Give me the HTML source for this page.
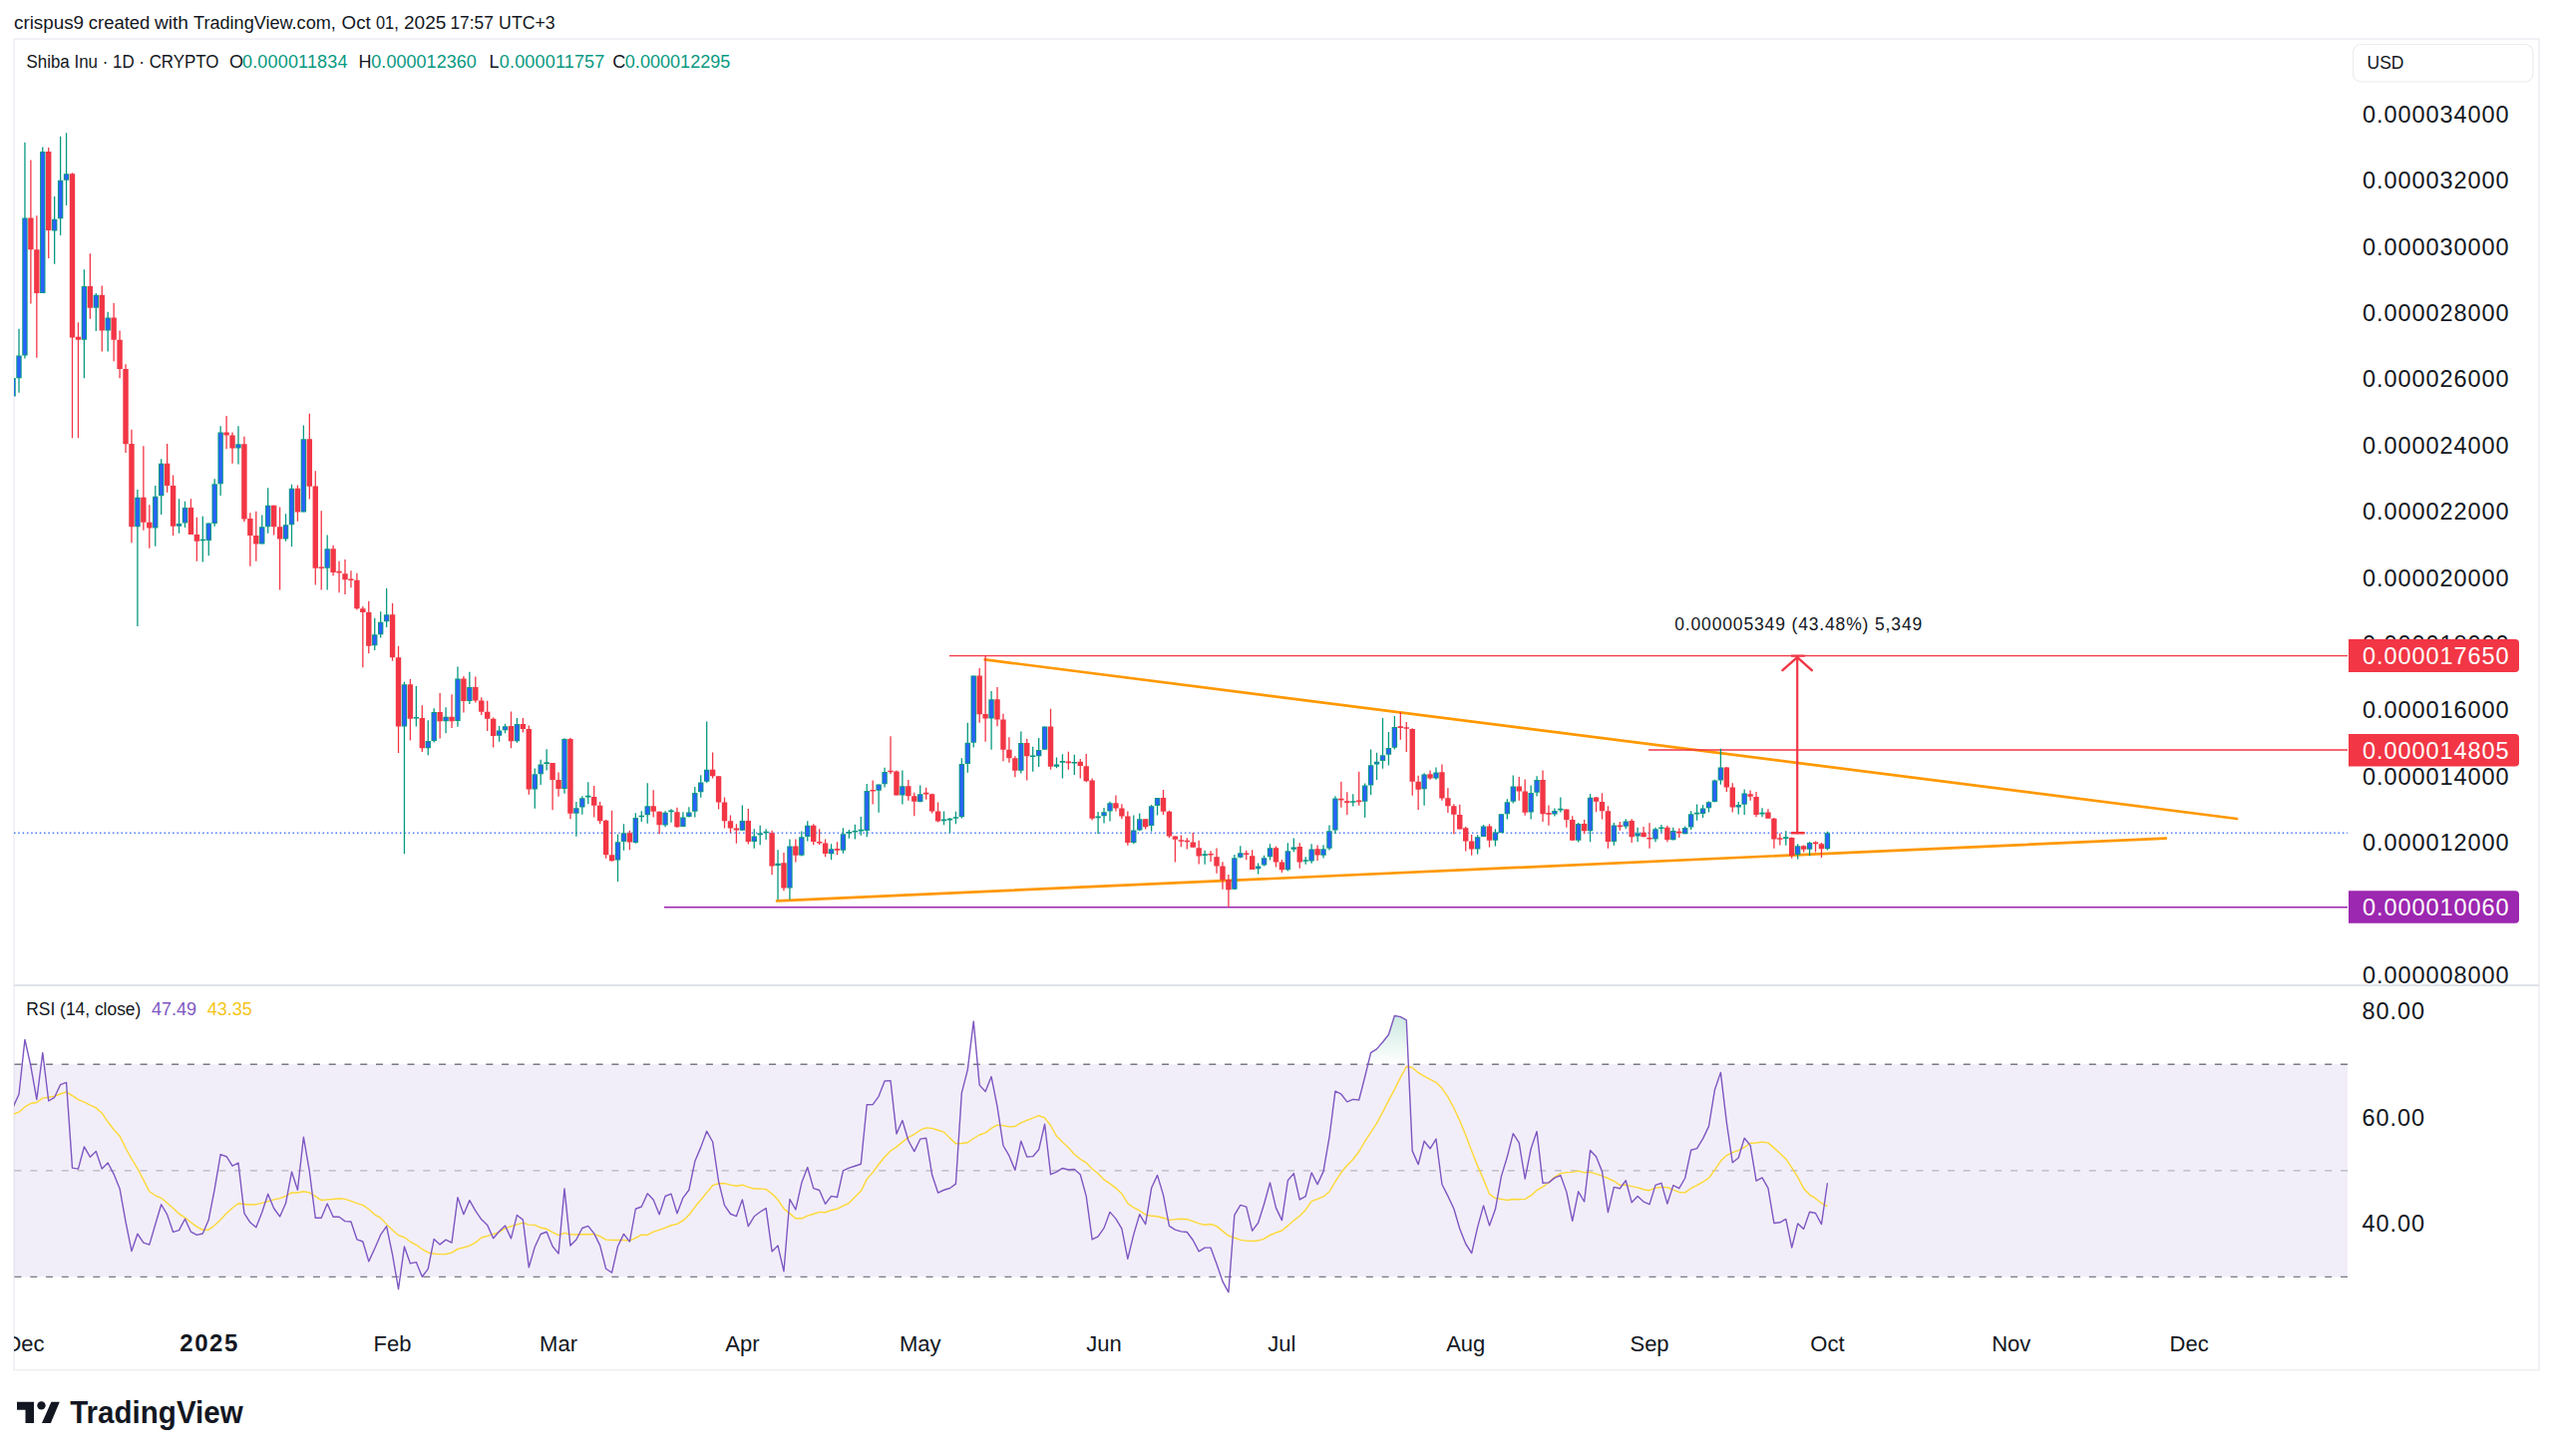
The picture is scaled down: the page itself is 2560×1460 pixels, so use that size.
<!DOCTYPE html>
<html><head><meta charset="utf-8"><title>Shiba Inu chart</title>
<style>html,body{margin:0;padding:0;background:#fff;}body{width:2560px;height:1460px;position:relative;overflow:hidden;font-family:"Liberation Sans",sans-serif;}</style>
</head><body>
<svg width="2560" height="1460" viewBox="0 0 2560 1460" style="position:absolute;left:0;top:0">
<defs><clipPath id="cm"><rect x="14" y="40" width="2340" height="947"/></clipPath>
<clipPath id="cr"><rect x="14" y="989" width="2340" height="321"/></clipPath>
<linearGradient id="gob" x1="0" y1="907.42" x2="0" y2="1067.25" gradientUnits="userSpaceOnUse"><stop offset="0" stop-color="#1a9c78" stop-opacity="0.75"/><stop offset="1" stop-color="#1a9c78" stop-opacity="0"/></linearGradient>
</defs>
<rect x="13.9" y="39.1" width="2532.2" height="1334.5" fill="none" stroke="#f1f1f5" stroke-width="1.8"/>
<rect x="14" y="987" width="2532" height="2" fill="#e0e3eb"/>
<g clip-path="url(#cm)">
<path d="M14 835.3H2354" stroke="#2962ff" stroke-width="1.5" stroke-opacity="0.85" stroke-dasharray="1.5 2.8"/>
<path d="M666 909.8H2354" stroke="#9c27b0" stroke-width="1.6"/>
<path d="M987.6 661.4L2243.1 821.0" stroke="#ff9800" stroke-width="2.7" stroke-linecap="round"/>
<path d="M779.1 903.4L2171.8 840.6" stroke="#ff9800" stroke-width="2.7" stroke-linecap="round"/>
<path d="M952 657.6H2354" stroke="#f23645" stroke-width="1.4"/>
<path d="M1653 752.1H2354" stroke="#f23645" stroke-width="1.5"/>
<path d="M13.05 378.9V397.6M19 329.76V393.77M24.95 142.66V359.43M42.78 147.56V294.02M54.67 197.08V264.83M60.62 136.82V236.09M66.56 133.31V205.96M84.4 270.2V379.29M96.29 294.02V332.1M108.18 312.71V352.42M137.91 491.07V628.04M155.75 486.96V547.86M161.69 460.18V516.07M179.53 500.36V534.82M185.48 502.68V528.93M203.31 517.86V563.39M209.26 524.46V557.14M215.2 480.36V527.68M221.15 427.14V496.96M238.99 427.14V465.54M262.77 516.43V545.54M268.72 489.29V534.82M286.55 515.18V542.86M292.5 485.71V548.21M304.39 426.43V513.39M328.17 536.61V591.43M375.74 619.81V652.12M381.68 613.27V639.62M387.63 590V629.04M405.46 683.85V856.15M417.36 688.08V728.46M429.25 722.31V757.31M435.19 710.19V744.42M447.08 709.23V735.19M458.97 668.46V728.65M470.87 673.65V705.96M500.59 728.07V743.79M506.54 725.8V735.18M518.43 720.06V744.7M536.27 770.4V810.76M542.21 761.63V787.03M548.16 751.35V772.52M566 740.17V795.65M577.89 803.96V838.73M583.83 798.22V816.81M589.78 784.31V806.23M619.51 836.46V884.08M625.45 826.19V852.71M637.34 815.33V845.7M643.29 813.35V824.09M649.23 785.2V825.84M667.07 813.35V829.35M673.02 811.25V824.68M684.91 814.16V829M690.85 809.14V819.42M696.8 789.05V819.42M702.74 777.37V799.8M708.69 723.52V785.12M744.36 807.49V832.74M756.25 831.29V850.77M762.2 827.69V847.16M768.15 831.29V842.12M780.04 852.21V901.99M791.93 841.39V901.99M803.82 833.46V858.42M809.76 823.36V843.56M833.55 846.15V862.31M845.44 830.22V855.71M851.38 832.09V840.66M857.33 826.81V841.43M863.28 819.12V837.8M869.22 785.93V839.23M881.11 786.48V814.73M887.06 769.67V789.45M904.89 772.53V806.48M922.73 787.58V804.4M946.51 813.41V827.14M952.46 820V835.16M958.4 813.83V826.19M964.35 760.28V820.43M970.3 724.86V774.78M976.24 677.57V749.57M994.08 693.06V751.72M1023.81 733.59V775.44M1035.7 748.75V773.79M1041.64 740.02V769.02M1047.59 728.48V751.72M1059.48 759.46V770.17M1065.43 756.16V780.39M1077.32 756.86V777.07M1101.1 814.09V836.28M1107.04 810V825.54M1112.99 803.81V823.44M1136.77 817.6V846.21M1142.72 815.49V833.36M1154.61 807.08V833.71M1160.56 800.08V817.6M1208.12 852.79V866.69M1237.85 856.96V892.19M1243.79 848.34V860.48M1261.63 865.49V876.43M1267.58 857.7V868.55M1273.52 846.3V862.52M1291.36 845.37V873.46M1297.3 840.45V854.18M1309.2 859.28V866.69M1315.14 846.3V865.77M1327.03 847.16V860.59M1332.98 827.54V852.42M1338.92 798.34V836.07M1356.76 796.36V808.39M1368.65 785.49V819.72M1374.6 751.62V796.94M1380.54 754.66V781.99M1386.49 720.09V770.66M1392.43 734.1V767.51M1398.38 718.1V751.39M1428.11 775.33V807.69M1440 769.49V781.76M1481.62 837.32V856.52M1487.56 827.05V838.93M1499.45 831.25V848.48M1505.4 816.34V835.36M1511.35 801.16V821.43M1517.29 777.5V805.62M1535.13 787.5V821.43M1541.07 778.21V798.48M1558.91 810.54V818.57M1564.86 799.43V814.53M1582.69 824.95V844.44M1594.58 796.1V844.21M1618.37 824.95V847.76M1630.26 821.33V831.15M1642.15 829.86V844.21M1659.99 829.64V844.21M1665.93 827.07V834.77M1677.82 829.86V842.48M1689.71 828.56V836.25M1695.66 813.17V831.92M1701.6 806.44V822.79M1707.55 806.92V819.9M1713.5 803.56V814.62M1719.44 781.63V804.52M1725.39 750.67V786.73M1743.22 804.04V816.54M1749.17 791.54V817.02M1767.01 810.29V819.23M1790.79 833.37V847.79M1802.68 846.35V861.54M1814.57 843.94V858.37M1832.41 833.65V852.6" stroke="#089981" stroke-width="1.3" fill="none"/>
<path d="M30.89 160.41V304.54M36.84 216.24V358.73M48.73 148.03V258.99M72.51 173.26V439.32M78.46 323.22V439.32M90.35 254.31V319.72M102.24 286.55V352.42M114.13 304.07V362.23M120.08 331.4V379.29M126.02 365.27V454.03M131.97 430.71V544.29M143.86 447.32V531.79M149.8 506.25V549.64M167.64 445V493.75M173.59 476.43V536.96M191.42 500.36V536.07M197.37 518.75V562.86M227.1 416.96V450.36M233.04 433.57V464.64M244.93 437.86V523.21M250.88 514.29V567.86M256.82 512.86V562.86M274.66 506.79V536.61M280.61 508.57V591.43M298.44 486.61V522.86M310.33 414.82V500.54M316.28 472.32V586.61M322.23 512.14V591.43M334.12 546.79V577.14M340.06 562.86V594.29M346.01 561.07V595.89M351.95 572.32V589.29M357.9 574.64V611.61M363.84 608.04V669.29M369.79 602.68V655.36M393.57 605V662.69M399.52 647.69V755M411.41 680.96V742.5M423.3 707.31V754.04M441.14 695V740.58M453.03 696.35V730M464.92 678.08V714.62M476.81 678.46V704.42M482.76 699.23V717.12M488.7 702.69V732.88M494.65 719.42V749.62M512.48 713.56V750.29M524.38 720.06V734.42M530.32 727.62V796.86M554.1 765.11V812.28M560.05 774.48V798.67M571.94 739.71V821.35M595.72 788.09V819.38M601.67 803.96V826.33M607.61 822.1V860.65M613.56 812.73V863.67M631.4 832.85V852.36M655.18 792.32V819.42M661.12 813.81V836.36M678.96 809.84V829.93M714.64 754.54V780.51M720.58 778.2V811.38M726.53 799.55V830.57M732.47 817.59V835.33M738.42 826.24V845.72M750.31 811.1V846.44M774.09 832.74V877.18M785.98 855.1V893.33M797.87 841.39V864.48M815.71 826.24V847.16M821.66 831.29V847.16M827.6 841.39V859.14M839.49 844.18V857.36M875.17 782.42V806.48M893 738.13V776.26M898.95 772.53V797.47M910.84 782.09V802.64M916.79 794.73V818.35M928.68 789.78V801.87M934.62 795.82V815.6M940.57 804.62V824.62M982.19 669.99V724.86M988.13 657.3V743.81M1000.02 689.1V728.15M1005.97 715.8V763.25M1011.92 739.19V764.73M1017.86 758.31V779.23M1029.75 740.84V782.53M1053.53 710.85V771.82M1071.37 753.69V771.82M1083.26 760.95V780.46M1089.21 755.93V784.31M1095.15 780.46V822.5M1118.94 797.39V813.51M1124.88 806.15V821.33M1130.83 813.51V847.73M1148.66 821.33V831.38M1166.5 791.9V817.01M1172.45 812.69V840.37M1178.39 838.62V864.55M1184.34 837.45V849.36M1190.28 840.37V851.47M1196.23 834.88V849.72M1202.17 842.71V866.42M1214.07 853.25V863.91M1220.01 850.47V875.69M1225.96 864.19V891.73M1231.9 876.89V909.62M1249.74 852.79V862.34M1255.68 852.14V871.98M1279.47 848.43V869.48M1285.41 862.06V875.04M1303.25 845.37V870.87M1321.09 847.5V862.99M1344.87 783.86V809.79M1350.81 794.37V817.03M1362.71 773.81V807.69M1404.32 714.02V741.81M1410.27 723.94V753.96M1416.22 730.13V797.87M1422.16 777.67V811.89M1434.05 772.41V781.76M1445.94 766.57V802.78M1451.89 790.27V815M1457.84 806.25V836.43M1463.78 806.79V831.52M1469.73 829.11V853.57M1475.67 836.88V857.68M1493.51 826.16V849.38M1523.24 779.02V802.68M1529.18 781.52V817.68M1547.02 772.59V824.11M1552.96 807.41V827.68M1570.8 811.59V829.86M1576.75 818.16V842.7M1588.64 821.93V836.28M1600.53 798.9V814.23M1606.48 795.35V821.56M1612.42 808.19V850.63M1624.31 824.05V832.66M1636.2 821.33V844.97M1648.09 829.11V839.31M1654.04 825.33V850.63M1671.88 827.82V844.21M1683.77 830.62V839.91M1731.33 768.94V793.94M1737.28 785.29V814.42M1755.12 792.5V802.79M1761.06 793.94V819.23M1772.95 811.25V820.87M1778.9 819.9V850.67M1784.84 835.58V847.5M1796.73 839.62V860.77M1808.63 847.5V854.52M1820.52 843.46V854.52M1826.46 844.9V860" stroke="#f23645" stroke-width="1.3" fill="none"/>
<path d="M10.35 378.9h5.4v18.7h-5.4zM16.3 356.39h5.4v22.89h-5.4zM22.25 218.58h5.4v137.82h-5.4zM40.08 152h5.4v142.02h-5.4zM51.97 219.74h5.4v11.68h-5.4zM57.92 180.73h5.4v38.54h-5.4zM63.86 174.19h5.4v6.54h-5.4zM81.7 287.02h5.4v53.73h-5.4zM93.59 295.66h5.4v13.08h-5.4zM105.48 318.55h5.4v12.85h-5.4zM135.21 498.75h5.4v29.46h-5.4zM153.05 497.68h5.4v31.79h-5.4zM158.99 464.64h5.4v32.68h-5.4zM176.83 525h5.4v2.68h-5.4zM182.78 508.93h5.4v15.54h-5.4zM200.61 540.72h5.4v1.6h-5.4zM206.56 524.46h5.4v17.5h-5.4zM212.5 485.36h5.4v39.64h-5.4zM218.45 433.57h5.4v51.79h-5.4zM236.29 445.18h5.4v4.29h-5.4zM260.07 528.21h5.4v17.32h-5.4zM266.02 506.79h5.4v21.43h-5.4zM283.85 526.25h5.4v14.29h-5.4zM289.8 489.64h5.4v36.61h-5.4zM301.69 440.18h5.4v73.21h-5.4zM325.47 550.36h5.4v19.29h-5.4zM373.04 636.35h5.4v10.96h-5.4zM378.98 623.85h5.4v12.5h-5.4zM384.93 616.15h5.4v7.12h-5.4zM402.76 686.35h5.4v42.12h-5.4zM414.66 719.01h5.4v1.6h-5.4zM426.55 742.88h5.4v7.31h-5.4zM432.49 714.04h5.4v28.85h-5.4zM444.38 718.85h5.4v4.42h-5.4zM456.27 680.38h5.4v42.5h-5.4zM468.17 689.04h5.4v14.04h-5.4zM497.89 732.61h5.4v5.14h-5.4zM503.84 728.37h5.4v3.78h-5.4zM515.73 726.11h5.4v17.08h-5.4zM533.57 776.3h5.4v15.27h-5.4zM539.51 766.47h5.4v9.83h-5.4zM545.46 764.31h5.4v1.6h-5.4zM563.3 740.92h5.4v50.19h-5.4zM575.19 810.31h5.4v5.44h-5.4zM581.13 800.18h5.4v9.37h-5.4zM587.08 797.87h5.4v1.6h-5.4zM616.81 844.32h5.4v18.29h-5.4zM622.75 835.19h5.4v8.76h-5.4zM634.64 820h5.4v24.88h-5.4zM640.59 817.69h5.4v1.6h-5.4zM646.53 808.33h5.4v8.99h-5.4zM664.37 814.75h5.4v12.85h-5.4zM670.32 812.55h5.4v1.6h-5.4zM682.21 819.42h5.4v9.58h-5.4zM688.15 814.4h5.4v4.67h-5.4zM694.1 794.89h5.4v18.92h-5.4zM700.04 784.38h5.4v9.93h-5.4zM705.99 771.85h5.4v11.83h-5.4zM741.66 822.93h5.4v9.81h-5.4zM753.55 838.51h5.4v5.48h-5.4zM759.5 835.54h5.4v1.6h-5.4zM765.45 833.67h5.4v1.6h-5.4zM777.34 865.63h5.4v2.45h-5.4zM789.23 848.61h5.4v41.84h-5.4zM801.12 839.23h5.4v18.47h-5.4zM807.06 827.69h5.4v11.25h-5.4zM830.85 851.32h5.4v4.95h-5.4zM842.74 836.26h5.4v16.48h-5.4zM848.68 834.04h5.4v1.6h-5.4zM854.63 832.94h5.4v1.6h-5.4zM860.58 831.84h5.4v1.6h-5.4zM866.52 793.08h5.4v39.89h-5.4zM878.41 786.48h5.4v6.26h-5.4zM884.36 774.07h5.4v12.09h-5.4zM902.19 788.35h5.4v9.12h-5.4zM920.03 796.37h5.4v7.69h-5.4zM943.81 821.62h5.4v1.6h-5.4zM949.76 820.85h5.4v1.6h-5.4zM955.7 819.13h5.4v1.6h-5.4zM961.65 766.05h5.4v53.22h-5.4zM967.6 744.63h5.4v21.42h-5.4zM973.54 677.57h5.4v67.06h-5.4zM991.38 701.3h5.4v19.11h-5.4zM1021.11 745.12h5.4v27.52h-5.4zM1033 757.51h5.4v1.6h-5.4zM1038.94 752.04h5.4v6.26h-5.4zM1044.89 728.48h5.4v23.23h-5.4zM1056.78 766.54h5.4v2.31h-5.4zM1062.73 763.11h5.4v1.6h-5.4zM1074.62 763.89h5.4v1.6h-5.4zM1098.4 818.55h5.4v1.6h-5.4zM1104.34 814.33h5.4v3.85h-5.4zM1110.29 805.33h5.4v8.18h-5.4zM1134.07 832.43h5.4v12.61h-5.4zM1140.02 821.33h5.4v11.1h-5.4zM1151.91 808.25h5.4v19.86h-5.4zM1157.86 800.08h5.4v7.94h-5.4zM1205.42 856.34h5.4v1.6h-5.4zM1235.15 860.2h5.4v31.53h-5.4zM1241.09 855.29h5.4v4.45h-5.4zM1258.93 868.55h5.4v2.78h-5.4zM1264.88 860.2h5.4v7.42h-5.4zM1270.82 850.19h5.4v9.09h-5.4zM1288.66 853.25h5.4v19.01h-5.4zM1294.6 849.54h5.4v2.32h-5.4zM1306.5 862.19h5.4v1.6h-5.4zM1312.44 851.4h5.4v12.05h-5.4zM1324.33 851.25h5.4v6.42h-5.4zM1330.28 833.15h5.4v17.52h-5.4zM1336.22 800.44h5.4v32.12h-5.4zM1354.06 803.26h5.4v1.6h-5.4zM1365.95 787.6h5.4v16.12h-5.4zM1371.9 767.16h5.4v20.44h-5.4zM1377.84 763.65h5.4v2.92h-5.4zM1383.79 757.23h5.4v5.84h-5.4zM1389.73 749.99h5.4v6.66h-5.4zM1395.68 728.97h5.4v20.67h-5.4zM1425.41 776.5h5.4v14.83h-5.4zM1437.3 774.4h5.4v6.19h-5.4zM1478.92 839.29h5.4v12.14h-5.4zM1484.86 828.39h5.4v10.54h-5.4zM1496.75 834.46h5.4v8.21h-5.4zM1502.7 816.34h5.4v18.75h-5.4zM1508.65 804.29h5.4v12.05h-5.4zM1514.59 788.39h5.4v15.45h-5.4zM1532.43 794.91h5.4v19.64h-5.4zM1538.37 781.96h5.4v12.68h-5.4zM1556.21 813.04h5.4v3.57h-5.4zM1562.16 810.79h5.4v1.6h-5.4zM1579.99 826.09h5.4v16.62h-5.4zM1591.88 799.65h5.4v33.61h-5.4zM1615.67 827.45h5.4v16.54h-5.4zM1627.56 823.44h5.4v5.29h-5.4zM1639.45 835.53h5.4v3.02h-5.4zM1657.29 831.15h5.4v10.42h-5.4zM1663.23 829.44h5.4v1.6h-5.4zM1675.12 833.11h5.4v9.21h-5.4zM1687.01 830h5.4v6.25h-5.4zM1692.96 816.25h5.4v13.27h-5.4zM1698.9 814.78h5.4v1.6h-5.4zM1704.85 810.58h5.4v5.48h-5.4zM1710.8 804.23h5.4v6.06h-5.4zM1716.74 782.4h5.4v21.63h-5.4zM1722.69 769.62h5.4v12.79h-5.4zM1740.52 806.92h5.4v2.69h-5.4zM1746.47 795.38h5.4v11.25h-5.4zM1764.31 814.78h5.4v1.6h-5.4zM1788.09 839.3h5.4v1.6h-5.4zM1799.98 848.27h5.4v8.85h-5.4zM1811.87 844.9h5.4v6.73h-5.4zM1829.71 835.29h5.4v16.06h-5.4z" fill="#089981"/>
<path d="M11.35 379.9h3.4v16.7h-3.4zM17.3 357.39h3.4v20.89h-3.4zM23.25 219.58h3.4v135.82h-3.4zM41.08 153h3.4v140.02h-3.4zM52.97 220.74h3.4v9.68h-3.4zM58.92 181.73h3.4v36.54h-3.4zM64.86 175.19h3.4v4.54h-3.4zM82.7 288.02h3.4v51.73h-3.4zM94.59 296.66h3.4v11.08h-3.4zM106.48 319.55h3.4v10.85h-3.4zM136.21 499.75h3.4v27.46h-3.4zM154.05 498.68h3.4v29.79h-3.4zM159.99 465.64h3.4v30.68h-3.4zM177.83 526h3.4v0.68h-3.4zM183.78 509.93h3.4v13.54h-3.4zM207.56 525.46h3.4v15.5h-3.4zM213.5 486.36h3.4v37.64h-3.4zM219.45 434.57h3.4v49.79h-3.4zM237.29 446.18h3.4v2.29h-3.4zM261.07 529.21h3.4v15.32h-3.4zM267.02 507.79h3.4v19.43h-3.4zM284.85 527.25h3.4v12.29h-3.4zM290.8 490.64h3.4v34.61h-3.4zM302.69 441.18h3.4v71.21h-3.4zM326.47 551.36h3.4v17.29h-3.4zM374.04 637.35h3.4v8.96h-3.4zM379.98 624.85h3.4v10.5h-3.4zM385.93 617.15h3.4v5.12h-3.4zM403.76 687.35h3.4v40.12h-3.4zM427.55 743.88h3.4v5.31h-3.4zM433.49 715.04h3.4v26.85h-3.4zM445.38 719.85h3.4v2.42h-3.4zM457.27 681.38h3.4v40.5h-3.4zM469.17 690.04h3.4v12.04h-3.4zM498.89 733.61h3.4v3.14h-3.4zM504.84 729.37h3.4v1.78h-3.4zM516.73 727.11h3.4v15.08h-3.4zM534.57 777.3h3.4v13.27h-3.4zM540.51 767.47h3.4v7.83h-3.4zM564.3 741.92h3.4v48.19h-3.4zM576.19 811.31h3.4v3.44h-3.4zM582.13 801.18h3.4v7.37h-3.4zM617.81 845.32h3.4v16.29h-3.4zM623.75 836.19h3.4v6.76h-3.4zM635.64 821h3.4v22.88h-3.4zM647.53 809.33h3.4v6.99h-3.4zM665.37 815.75h3.4v10.85h-3.4zM683.21 820.42h3.4v7.58h-3.4zM689.15 815.4h3.4v2.67h-3.4zM695.1 795.89h3.4v16.92h-3.4zM701.04 785.38h3.4v7.93h-3.4zM706.99 772.85h3.4v9.83h-3.4zM742.66 823.93h3.4v7.81h-3.4zM754.55 839.51h3.4v3.48h-3.4zM778.34 866.63h3.4v0.45h-3.4zM790.23 849.61h3.4v39.84h-3.4zM802.12 840.23h3.4v16.47h-3.4zM808.06 828.69h3.4v9.25h-3.4zM831.85 852.32h3.4v2.95h-3.4zM843.74 837.26h3.4v14.48h-3.4zM867.52 794.08h3.4v37.89h-3.4zM879.41 787.48h3.4v4.26h-3.4zM885.36 775.07h3.4v10.09h-3.4zM903.19 789.35h3.4v7.12h-3.4zM921.03 797.37h3.4v5.69h-3.4zM962.65 767.05h3.4v51.22h-3.4zM968.6 745.63h3.4v19.42h-3.4zM974.54 678.57h3.4v65.06h-3.4zM992.38 702.3h3.4v17.11h-3.4zM1022.11 746.12h3.4v25.52h-3.4zM1039.94 753.04h3.4v4.26h-3.4zM1045.89 729.48h3.4v21.23h-3.4zM1057.78 767.54h3.4v0.31h-3.4zM1105.34 815.33h3.4v1.85h-3.4zM1111.29 806.33h3.4v6.18h-3.4zM1135.07 833.43h3.4v10.61h-3.4zM1141.02 822.33h3.4v9.1h-3.4zM1152.91 809.25h3.4v17.86h-3.4zM1158.86 801.08h3.4v5.94h-3.4zM1236.15 861.2h3.4v29.53h-3.4zM1242.09 856.29h3.4v2.45h-3.4zM1259.93 869.55h3.4v0.78h-3.4zM1265.88 861.2h3.4v5.42h-3.4zM1271.82 851.19h3.4v7.09h-3.4zM1289.66 854.25h3.4v17.01h-3.4zM1295.6 850.54h3.4v0.32h-3.4zM1313.44 852.4h3.4v10.05h-3.4zM1325.33 852.25h3.4v4.42h-3.4zM1331.28 834.15h3.4v15.52h-3.4zM1337.22 801.44h3.4v30.12h-3.4zM1366.95 788.6h3.4v14.12h-3.4zM1372.9 768.16h3.4v18.44h-3.4zM1378.84 764.65h3.4v0.92h-3.4zM1384.79 758.23h3.4v3.84h-3.4zM1390.73 750.99h3.4v4.66h-3.4zM1396.68 729.97h3.4v18.67h-3.4zM1426.41 777.5h3.4v12.83h-3.4zM1438.3 775.4h3.4v4.19h-3.4zM1479.92 840.29h3.4v10.14h-3.4zM1485.86 829.39h3.4v8.54h-3.4zM1497.75 835.46h3.4v6.21h-3.4zM1503.7 817.34h3.4v16.75h-3.4zM1509.65 805.29h3.4v10.05h-3.4zM1515.59 789.39h3.4v13.45h-3.4zM1533.43 795.91h3.4v17.64h-3.4zM1539.37 782.96h3.4v10.68h-3.4zM1557.21 814.04h3.4v1.57h-3.4zM1580.99 827.09h3.4v14.62h-3.4zM1592.88 800.65h3.4v31.61h-3.4zM1616.67 828.45h3.4v14.54h-3.4zM1628.56 824.44h3.4v3.29h-3.4zM1640.45 836.53h3.4v1.02h-3.4zM1658.29 832.15h3.4v8.42h-3.4zM1676.12 834.11h3.4v7.21h-3.4zM1688.01 831h3.4v4.25h-3.4zM1693.96 817.25h3.4v11.27h-3.4zM1705.85 811.58h3.4v3.48h-3.4zM1711.8 805.23h3.4v4.06h-3.4zM1717.74 783.4h3.4v19.63h-3.4zM1723.69 770.62h3.4v10.79h-3.4zM1741.52 807.92h3.4v0.69h-3.4zM1747.47 796.38h3.4v9.25h-3.4zM1800.98 849.27h3.4v6.85h-3.4zM1812.87 845.9h3.4v4.73h-3.4zM1830.71 836.29h3.4v14.06h-3.4z" fill="#2962ff"/>
<path d="M28.19 218.58h5.4v31.77h-5.4zM34.14 250.34h5.4v43.68h-5.4zM46.03 152h5.4v78.95h-5.4zM69.81 174.19h5.4v164.21h-5.4zM75.76 337.71h5.4v3.04h-5.4zM87.65 287.02h5.4v21.72h-5.4zM99.54 295.66h5.4v35.74h-5.4zM111.43 318.55h5.4v22.19h-5.4zM117.38 340.74h5.4v29.2h-5.4zM123.32 369.94h5.4v75.22h-5.4zM129.27 445h5.4v83.21h-5.4zM141.16 498.75h5.4v25h-5.4zM147.1 523.75h5.4v5.71h-5.4zM164.94 464.64h5.4v22.32h-5.4zM170.89 486.96h5.4v40.71h-5.4zM188.72 508.93h5.4v27.14h-5.4zM194.67 536.07h5.4v6.79h-5.4zM224.4 433.57h5.4v3.04h-5.4zM230.34 436.61h5.4v12.86h-5.4zM242.23 445.18h5.4v75.36h-5.4zM248.18 520h5.4v16.96h-5.4zM254.12 536.96h5.4v8.57h-5.4zM271.96 506.79h5.4v21.43h-5.4zM277.91 528.21h5.4v12.32h-5.4zM295.74 489.64h5.4v23.75h-5.4zM307.63 440.18h5.4v47.68h-5.4zM313.58 487.5h5.4v82.14h-5.4zM319.53 568.4h5.4v1.6h-5.4zM331.42 550.36h5.4v23.75h-5.4zM337.36 572.86h5.4v1.6h-5.4zM343.31 575.36h5.4v5.89h-5.4zM349.25 580.45h5.4v1.6h-5.4zM355.2 581.79h5.4v28.57h-5.4zM361.14 610.36h5.4v3.57h-5.4zM367.09 613.93h5.4v33.93h-5.4zM390.87 616.15h5.4v43.08h-5.4zM396.82 659.23h5.4v69.23h-5.4zM408.71 686.35h5.4v34.42h-5.4zM420.6 720h5.4v30.19h-5.4zM438.44 714.04h5.4v9.23h-5.4zM450.33 718.85h5.4v4.42h-5.4zM462.22 680.38h5.4v22.69h-5.4zM474.11 689.04h5.4v13.46h-5.4zM480.06 702.5h5.4v11.15h-5.4zM486 713.65h5.4v7.12h-5.4zM491.95 720.77h5.4v17.31h-5.4zM509.78 728.07h5.4v15.12h-5.4zM521.68 726.11h5.4v4.84h-5.4zM527.62 730.94h5.4v60.62h-5.4zM551.4 765.11h5.4v16.93h-5.4zM557.35 782.04h5.4v9.07h-5.4zM569.24 740.92h5.4v74.83h-5.4zM593.02 799.12h5.4v8.62h-5.4zM598.97 807.74h5.4v15.57h-5.4zM604.91 822.86h5.4v34.32h-5.4zM610.86 857.17h5.4v6.05h-5.4zM628.7 835.19h5.4v9.34h-5.4zM652.48 808.33h5.4v5.49h-5.4zM658.42 813.81h5.4v13.55h-5.4zM676.26 814.16h5.4v15.18h-5.4zM711.94 771.85h5.4v6.35h-5.4zM717.88 778.2h5.4v26.4h-5.4zM723.83 804.6h5.4v18.76h-5.4zM729.77 823.36h5.4v7.21h-5.4zM735.72 830.57h5.4v1.88h-5.4zM747.61 822.93h5.4v21.06h-5.4zM771.39 835.19h5.4v33.33h-5.4zM783.28 865.2h5.4v25.25h-5.4zM795.17 848.61h5.4v9.09h-5.4zM813.01 827.69h5.4v16.3h-5.4zM818.96 843.91h5.4v1.6h-5.4zM824.9 845.43h5.4v10.68h-5.4zM836.79 851.07h5.4v1.6h-5.4zM872.47 791.95h5.4v1.6h-5.4zM890.3 772.72h5.4v1.6h-5.4zM896.25 773.52h5.4v23.96h-5.4zM908.14 788.35h5.4v9.89h-5.4zM914.09 798.24h5.4v5.49h-5.4zM925.98 794.8h5.4v1.6h-5.4zM931.92 796.37h5.4v17.25h-5.4zM937.87 813.41h5.4v10.11h-5.4zM979.49 677.57h5.4v38.56h-5.4zM985.43 716.12h5.4v4.28h-5.4zM997.32 701.3h5.4v20.27h-5.4zM1003.27 721.56h5.4v30.15h-5.4zM1009.22 751.72h5.4v8.57h-5.4zM1015.16 760.28h5.4v12.36h-5.4zM1027.05 745.12h5.4v13.18h-5.4zM1050.83 728.48h5.4v40.37h-5.4zM1068.67 763.6h5.4v1.6h-5.4zM1080.56 763.87h5.4v4.09h-5.4zM1086.51 768.19h5.4v14.95h-5.4zM1092.45 782.56h5.4v38.31h-5.4zM1116.24 805.33h5.4v5.26h-5.4zM1122.18 810.59h5.4v7.83h-5.4zM1128.13 818.41h5.4v26.63h-5.4zM1145.96 821.33h5.4v7.94h-5.4zM1163.8 800.08h5.4v13.78h-5.4zM1169.75 813.86h5.4v24.76h-5.4zM1175.69 838.62h5.4v3.15h-5.4zM1181.64 842.26h5.4v1.6h-5.4zM1187.58 842.72h5.4v1.6h-5.4zM1193.53 844.46h5.4v5.26h-5.4zM1199.47 850.3h5.4v8.18h-5.4zM1211.37 855.97h5.4v1.6h-5.4zM1217.31 859.28h5.4v9.27h-5.4zM1223.26 868.55h5.4v13.91h-5.4zM1229.2 881.99h5.4v10.2h-5.4zM1247.04 855.42h5.4v1.6h-5.4zM1252.98 858.35h5.4v13.63h-5.4zM1276.77 850.19h5.4v14.37h-5.4zM1282.71 864.38h5.4v7.88h-5.4zM1300.55 849.08h5.4v15.3h-5.4zM1318.39 851.21h5.4v6.21h-5.4zM1342.17 800.81h5.4v1.6h-5.4zM1348.11 803.36h5.4v1.75h-5.4zM1360.01 802.56h5.4v1.6h-5.4zM1401.62 728.28h5.4v1.6h-5.4zM1407.57 729.22h5.4v1.6h-5.4zM1413.52 730.95h5.4v52.91h-5.4zM1419.46 783.86h5.4v7.83h-5.4zM1431.35 776.15h5.4v4.44h-5.4zM1443.24 774.16h5.4v26.28h-5.4zM1449.19 800.27h5.4v8.04h-5.4zM1455.14 808.3h5.4v8.48h-5.4zM1461.08 816.96h5.4v14.55h-5.4zM1467.03 830.18h5.4v13.39h-5.4zM1472.97 843.39h5.4v8.04h-5.4zM1490.81 828.39h5.4v14.29h-5.4zM1520.54 788.39h5.4v5h-5.4zM1526.48 793.39h5.4v21.43h-5.4zM1544.32 781.96h5.4v34.38h-5.4zM1550.26 815.09h5.4v1.6h-5.4zM1568.1 811.59h5.4v10.35h-5.4zM1574.05 821.93h5.4v20.77h-5.4zM1585.94 826.09h5.4v7.18h-5.4zM1597.83 799.43h5.4v4.23h-5.4zM1603.78 803.96h5.4v9.29h-5.4zM1609.72 813.25h5.4v30.74h-5.4zM1621.61 827.55h5.4v1.6h-5.4zM1633.5 823.07h5.4v16.09h-5.4zM1645.39 834.77h5.4v4.53h-5.4zM1651.34 840.02h5.4v1.6h-5.4zM1669.18 829.86h5.4v12.08h-5.4zM1681.07 833.82h5.4v1.6h-5.4zM1728.63 769.62h5.4v20h-5.4zM1734.58 789.62h5.4v20h-5.4zM1752.42 796.35h5.4v2.4h-5.4zM1758.36 799.04h5.4v17.98h-5.4zM1770.25 814.62h5.4v6.25h-5.4zM1776.2 820.87h5.4v20.67h-5.4zM1782.14 840.26h5.4v1.6h-5.4zM1794.03 840.1h5.4v17.79h-5.4zM1805.93 848.27h5.4v3.37h-5.4zM1817.82 844.58h5.4v1.6h-5.4zM1823.76 846.35h5.4v5h-5.4z" fill="#f23645"/>
<g stroke="#f23645" stroke-linecap="round" fill="none">
<path d="M1802.2 658.5V835.3" stroke-width="2.2"/>
<path d="M1796 657.6H1809.7M1796 835.3H1809.7" stroke-width="2.4" stroke-linecap="butt"/>
<path d="M1787.4 672.2L1802.2 659.2L1816.8 672.2" stroke-width="2.4"/>
</g>
</g>
<g clip-path="url(#cr)">
<rect x="14" y="1067.25" width="2340" height="213.1" fill="#7e57c2" fill-opacity="0.1"/>
<path d="M1374.6 1067.25L1374.6 1055.6L1380.54 1051.85L1386.49 1044.99L1392.43 1037.49L1398.38 1018.55L1404.32 1019.65L1410.27 1022.78L1410.27 1067.25Z" fill="url(#gob)"/>
<path d="M14.5 1067.25H2354" stroke="#787b86" stroke-width="1.3" stroke-dasharray="7 8.76"/>
<path d="M14.5 1173.8H2354" stroke="#787b86" stroke-opacity="0.5" stroke-width="1.3" stroke-dasharray="7 8.76"/>
<path d="M14.5 1280.35H2354" stroke="#787b86" stroke-width="1.3" stroke-dasharray="7 8.76"/>
<path d="M13.05 1117.33L19 1115.2L24.95 1109.9L30.89 1106.51L36.84 1105.5L42.78 1101.15L48.73 1100.25L54.67 1099.09L60.62 1097.01L66.56 1094.79L72.51 1098.68L78.46 1102.65L84.4 1105.03L90.35 1108.15L96.29 1110.86L102.24 1116.2L108.18 1125.03L114.13 1132.76L120.08 1139.15L126.02 1151.25L131.97 1162L137.91 1171.78L143.86 1183.11L149.8 1194.73L155.75 1198.78L161.69 1201.32L167.64 1206.18L173.59 1211.55L179.53 1217.2L185.48 1220.78L191.42 1225.73L197.37 1230.09L203.31 1233.31L209.26 1233.16L215.2 1228.71L221.15 1223.02L227.1 1216.85L233.04 1211.21L238.99 1206.8L244.93 1207.43L250.88 1207.99L256.82 1207.66L262.77 1206.36L268.72 1204.57L274.66 1202.9L280.61 1201.58L286.55 1199.41L292.5 1195.98L298.44 1196.05L304.39 1194.81L310.33 1195.88L316.28 1199.6L322.23 1203.55L328.17 1202.86L334.12 1202.47L340.06 1201.72L346.01 1202.38L351.95 1204.36L357.9 1206.58L363.84 1208.37L369.79 1212.53L375.74 1218.03L381.68 1221.24L387.63 1227.63L393.57 1233.59L399.52 1238.69L405.46 1240.74L411.41 1245.03L417.36 1248.26L423.3 1252.55L429.25 1255.96L435.19 1257.22L441.14 1257.58L447.08 1257.45L453.03 1256.1L458.97 1252.43L464.92 1250.96L470.87 1249.11L476.81 1245.97L482.76 1240.98L488.7 1239.43L494.65 1237.63L500.59 1235.43L506.54 1231.77L512.48 1229.59L518.43 1227.88L524.38 1226.1L530.32 1228.09L536.27 1228.4L542.21 1231.03L548.16 1232.29L554.1 1235.59L560.05 1238.65L566 1236.44L571.94 1237.92L577.89 1238.01L583.83 1237.78L589.78 1237.8L595.72 1237.44L601.67 1239.61L607.61 1243.13L613.56 1243.5L619.51 1243.44L625.45 1243.43L631.4 1244.13L637.34 1241.46L643.29 1238.09L649.23 1238.45L655.18 1235.16L661.12 1233.36L667.07 1231.07L673.02 1228.77L678.96 1227.33L684.91 1223.92L690.85 1218.27L696.8 1210.3L702.74 1203.21L708.69 1195.85L714.64 1188.7L720.58 1186.74L726.53 1186.64L732.47 1188.1L738.42 1189.28L744.36 1188.21L750.31 1190.37L756.25 1191.99L762.2 1191.89L768.15 1192.64L774.09 1197.04L780.04 1203.08L785.98 1211.97L791.93 1216.84L797.87 1221.7L803.82 1221.8L809.76 1219.08L815.71 1217.25L821.66 1215.39L827.6 1215.7L833.55 1213.53L839.49 1212.15L845.44 1209.19L851.38 1206.3L857.33 1200.18L863.28 1194.34L869.22 1182.4L875.17 1175.63L881.11 1167.51L887.06 1160.22L893 1154.01L898.95 1150.1L904.89 1145.11L910.84 1140.57L916.79 1137.37L922.73 1133.21L928.68 1130.88L934.62 1131.37L940.57 1133.29L946.51 1135.15L952.46 1141.13L958.4 1146.8L964.35 1146.56L970.3 1145.74L976.24 1141.49L982.19 1138L988.13 1135.93L994.08 1131.34L1000.02 1128.13L1005.97 1128.6L1011.92 1129.86L1017.86 1129.52L1023.81 1125.82L1029.75 1123.45L1035.7 1121.17L1041.64 1118.72L1047.59 1120.96L1053.53 1128.47L1059.48 1139.25L1065.43 1145.2L1071.37 1150.81L1077.32 1157.45L1083.26 1162.31L1089.21 1165.93L1095.15 1171.93L1101.1 1176.69L1107.04 1182.91L1112.99 1186.87L1118.94 1191.33L1124.88 1197L1130.83 1206.64L1136.77 1210.95L1142.72 1213.99L1148.66 1218.01L1154.61 1219.32L1160.56 1219.74L1166.5 1221.21L1172.45 1223.36L1178.39 1222.66L1184.34 1222.3L1190.28 1222.6L1196.23 1224.6L1202.17 1226.94L1208.12 1228.29L1214.07 1227.5L1220.01 1229.61L1225.96 1234.41L1231.9 1239.27L1237.85 1241.2L1243.79 1243.34L1249.74 1244.18L1255.68 1244.52L1261.63 1244.04L1267.58 1242.07L1273.52 1238.52L1279.47 1236.21L1285.41 1233.98L1291.36 1229.16L1297.3 1223.84L1303.25 1219.23L1309.2 1213.14L1315.14 1204.58L1321.09 1202.38L1327.03 1199.97L1332.98 1194.99L1338.92 1184.99L1344.87 1175.77L1350.81 1168.45L1356.76 1162.49L1362.71 1154.77L1368.65 1144.49L1374.6 1135.34L1380.54 1126.43L1386.49 1115.15L1392.43 1103.57L1398.38 1092.32L1404.32 1080.33L1410.27 1069.48L1416.22 1070.46L1422.16 1075.71L1428.11 1079.07L1434.05 1082.42L1440 1085.26L1445.94 1091.29L1451.89 1099.84L1457.84 1111.01L1463.78 1123.89L1469.73 1138.33L1475.67 1153.98L1481.62 1169.13L1487.56 1182.64L1493.51 1197.36L1499.45 1201.53L1505.4 1202.39L1511.35 1203.52L1517.29 1202.44L1523.24 1202.71L1529.18 1202.33L1535.13 1198.94L1541.07 1193.41L1547.02 1190.14L1552.96 1185.76L1558.91 1180.37L1564.86 1176.66L1570.8 1175.67L1576.75 1175.34L1582.69 1174.08L1588.64 1175.89L1594.58 1175.43L1600.53 1177.07L1606.48 1179.12L1612.42 1181.52L1618.37 1184.26L1624.31 1188.34L1630.26 1188.16L1636.2 1189.58L1642.15 1190.9L1648.09 1192.79L1654.04 1193.69L1659.99 1191.12L1665.93 1190.52L1671.88 1190.67L1677.82 1193.17L1683.77 1195.45L1689.71 1195.92L1695.66 1191.46L1701.6 1188.69L1707.55 1185.13L1713.5 1181.25L1719.44 1173.18L1725.39 1164.31L1731.33 1158.61L1737.28 1155.62L1743.22 1153.67L1749.17 1150.46L1755.12 1146.27L1761.06 1145.95L1767.01 1145.18L1772.95 1145.9L1778.9 1151.13L1784.84 1156.44L1790.79 1162.19L1796.73 1170.88L1802.68 1180.45L1808.63 1191.67L1814.57 1198.09L1820.52 1201.72L1826.46 1206.47L1832.41 1209.68" stroke="#fdd835" stroke-width="1.4" fill="none" stroke-linejoin="round"/>
<path d="M13.05 1110.4L19 1097.28L24.95 1042.37L30.89 1069.02L36.84 1102.51L42.78 1055.67L48.73 1103.99L54.67 1100.29L60.62 1087.56L66.56 1085.44L72.51 1171.11L78.46 1172.1L84.4 1149.96L90.35 1160.16L96.29 1154.53L102.24 1172.1L108.18 1165.95L114.13 1177.32L120.08 1191.92L126.02 1225.05L131.97 1254.52L137.91 1237.26L143.86 1246.08L149.8 1248.13L155.75 1227.81L161.69 1207.77L167.64 1217.89L173.59 1235.4L179.53 1233.58L185.48 1222.29L191.42 1235.2L197.37 1238.42L203.31 1236.95L209.26 1222.95L215.2 1192.26L221.15 1157.57L227.1 1159.72L233.04 1169.16L238.99 1166.03L244.93 1216.55L250.88 1225.83L256.82 1230.71L262.77 1215.44L268.72 1197.21L274.66 1211.77L280.61 1219.94L286.55 1206.58L292.5 1175.01L298.44 1193.22L304.39 1140.16L310.33 1174.72L316.28 1221.3L322.23 1221.3L328.17 1206.93L334.12 1220.28L340.06 1220.28L346.01 1224.59L351.95 1224.93L357.9 1242.82L363.84 1245.01L369.79 1264.86L375.74 1252.05L381.68 1238.19L387.63 1229.6L393.57 1258.11L399.52 1292.67L405.46 1250.06L411.41 1266.93L417.36 1265.59L423.3 1280.25L429.25 1272.41L435.19 1242.47L441.14 1247.91L447.08 1243.15L453.03 1246.07L458.97 1200.64L464.92 1217.65L470.87 1203.64L476.81 1214.18L482.76 1222.82L488.7 1228.39L494.65 1241.7L500.59 1234.7L506.54 1229.09L512.48 1241.91L518.43 1218.45L524.38 1223.09L530.32 1270.92L536.27 1250.42L542.21 1237.52L548.16 1235.27L554.1 1249.74L560.05 1257.07L566 1191.84L571.94 1249.08L577.89 1243.03L583.83 1231.51L589.78 1229.38L595.72 1236.82L601.67 1248.9L607.61 1272.26L613.56 1276.11L619.51 1249.68L625.45 1237.36L631.4 1245.1L637.34 1212.25L643.29 1209.98L649.23 1196.86L655.18 1202.99L661.12 1217.86L667.07 1199.5L673.02 1197.1L678.96 1216.68L684.91 1201.1L690.85 1193.26L696.8 1164.54L702.74 1150.38L708.69 1134.33L714.64 1144.97L720.58 1184.76L726.53 1208.64L732.47 1217.27L738.42 1219.58L744.36 1202.89L750.31 1229.7L756.25 1219.8L762.2 1215.25L768.15 1211.6L774.09 1254.91L780.04 1249.06L785.98 1274.87L791.93 1202.51L797.87 1212.97L803.82 1186.12L809.76 1170.55L815.71 1191.66L821.66 1193.51L827.6 1207.26L833.55 1199.39L839.49 1200.48L845.44 1173.83L851.38 1171.14L857.33 1169.24L863.28 1167.23L869.22 1107.8L875.17 1107.66L881.11 1099.28L887.06 1084.03L893 1083.63L898.95 1136.94L904.89 1123.57L910.84 1143.74L916.79 1154.62L922.73 1142.18L928.68 1141.24L934.62 1178.07L940.57 1196.06L946.51 1193.25L952.46 1191.5L958.4 1187.14L964.35 1095.84L970.3 1072.62L976.24 1024.12L982.19 1088.12L988.13 1094.48L994.08 1079.53L1000.02 1109.69L1005.97 1148.73L1011.92 1158.9L1017.86 1173.36L1023.81 1144.17L1029.75 1160.03L1035.7 1159.67L1041.64 1152.82L1047.59 1127.27L1053.53 1177.69L1059.48 1175.04L1065.43 1171.45L1071.37 1172.95L1077.32 1172.56L1083.26 1177.72L1089.21 1199.38L1095.15 1242.93L1101.1 1239.92L1107.04 1231.38L1112.99 1215.36L1118.94 1222.15L1124.88 1232.21L1130.83 1262.29L1136.77 1237.9L1142.72 1217.71L1148.66 1227.71L1154.61 1191.31L1160.56 1178.41L1166.5 1198.36L1172.45 1229.43L1178.39 1233.08L1184.34 1234.92L1190.28 1235.53L1196.23 1243.47L1202.17 1254.86L1208.12 1251.15L1214.07 1251.15L1220.01 1267.5L1225.96 1284.86L1231.9 1295.8L1237.85 1218.31L1243.79 1208.37L1249.74 1210.16L1255.68 1234.18L1261.63 1226.28L1267.58 1207.3L1273.52 1185.88L1279.47 1211.16L1285.41 1223.58L1291.36 1183.73L1297.3 1176.6L1303.25 1202.97L1309.2 1199.62L1315.14 1175.94L1321.09 1187.59L1327.03 1174.6L1332.98 1140.47L1338.92 1094.08L1344.87 1097.23L1350.81 1104.9L1356.76 1102.39L1362.71 1103L1368.65 1079.79L1374.6 1055.6L1380.54 1051.85L1386.49 1044.99L1392.43 1037.49L1398.38 1018.55L1404.32 1019.65L1410.27 1022.78L1416.22 1154.13L1422.16 1167.61L1428.11 1144.28L1434.05 1151.78L1440 1142.08L1445.94 1187.51L1451.89 1199.43L1457.84 1211.95L1463.78 1232.18L1469.73 1247.25L1475.67 1256.58L1481.62 1230.56L1487.56 1208.85L1493.51 1228.9L1499.45 1212.53L1505.4 1179.59L1511.35 1160.06L1517.29 1136.7L1523.24 1145.92L1529.18 1182.1L1535.13 1152.01L1541.07 1134.58L1547.02 1186.31L1552.96 1185.91L1558.91 1181.17L1564.86 1178.55L1570.8 1195.12L1576.75 1224.25L1582.69 1194.81L1588.64 1204.98L1594.58 1153.56L1600.53 1159.77L1606.48 1174.63L1612.42 1215.69L1618.37 1190.34L1624.31 1191.75L1630.26 1183.73L1636.2 1205.82L1642.15 1199.57L1648.09 1205.09L1654.04 1207.62L1659.99 1188.37L1665.93 1186.3L1671.88 1207.08L1677.82 1188.61L1683.77 1191.71L1689.71 1181.27L1695.66 1153.25L1701.6 1151.56L1707.55 1141.89L1713.5 1129.41L1719.44 1092.83L1725.39 1075.37L1731.33 1125.31L1737.28 1165.77L1743.22 1161.04L1749.17 1141.3L1755.12 1148.44L1761.06 1184.15L1767.01 1180.92L1772.95 1191.4L1778.9 1226.47L1784.84 1225.79L1790.79 1222.45L1796.73 1251.04L1802.68 1226.88L1808.63 1232.39L1814.57 1215.27L1820.52 1216.54L1826.46 1227.61L1832.41 1186.24" stroke="#7e57c2" stroke-width="1.4" fill="none" stroke-linejoin="round"/>
</g>
<g font-family="'Liberation Sans', sans-serif" font-size="23.5" fill="#131722">
<text x="2369" y="122.7" textLength="146.7">0.000034000</text>
<text x="2369" y="189.1" textLength="146.7">0.000032000</text>
<text x="2369" y="255.5" textLength="146.7">0.000030000</text>
<text x="2369" y="321.9" textLength="146.7">0.000028000</text>
<text x="2369" y="388.3" textLength="146.7">0.000026000</text>
<text x="2369" y="454.7" textLength="146.7">0.000024000</text>
<text x="2369" y="521.1" textLength="146.7">0.000022000</text>
<text x="2369" y="587.5" textLength="146.7">0.000020000</text>
<text x="2369" y="653.9" textLength="146.7">0.000018000</text>
<text x="2369" y="720.3" textLength="146.7">0.000016000</text>
<text x="2369" y="786.7" textLength="146.7">0.000014000</text>
<text x="2369" y="853.1" textLength="146.7">0.000012000</text>
<text x="2369" y="919.5" textLength="146.7">0.000010000</text>
<text x="2369" y="985.9" textLength="146.7">0.000008000</text>
</g>
<path d="M2355 641H2522a4 4 0 0 1 4 4V670a4 4 0 0 1 -4 4H2355Z" fill="#f23645"/>
<text x="2369" y="666.3" font-family="'Liberation Sans', sans-serif" font-size="23.5" fill="#fff" textLength="146.7">0.000017650</text>
<path d="M2355 735.9H2522a4 4 0 0 1 4 4V764.5a4 4 0 0 1 -4 4H2355Z" fill="#f23645"/>
<text x="2369" y="761" font-family="'Liberation Sans', sans-serif" font-size="23.5" fill="#fff" textLength="146.7">0.000014805</text>
<path d="M2355 893.3H2522a4 4 0 0 1 4 4V921.7a4 4 0 0 1 -4 4H2355Z" fill="#9c27b0"/>
<text x="2369" y="918.3" font-family="'Liberation Sans', sans-serif" font-size="23.5" fill="#fff" textLength="146.7">0.000010060</text>
<rect x="2359.5" y="44.5" width="180.5" height="37.5" rx="8" fill="#fff" stroke="#ececf0" stroke-width="1.2"/>
<text x="2373.5" y="68.9" font-family="'Liberation Sans', sans-serif" font-size="17.5" fill="#131722">USD</text>
<g font-family="'Liberation Sans', sans-serif" font-size="23.5" fill="#131722">
<text x="2368.5" y="1022.27" textLength="62.7">80.00</text>
<text x="2368.5" y="1128.82" textLength="62.7">60.00</text>
<text x="2368.5" y="1235.38" textLength="62.7">40.00</text>
</g>
<clipPath id="ct"><rect x="14" y="1300" width="2340" height="70"/></clipPath>
<g font-family="'Liberation Sans', sans-serif" font-size="22" fill="#131722" text-anchor="middle" clip-path="url(#ct)">
<text x="24.95" y="1355.2">Dec</text>
<text x="209.26" y="1355.2" font-weight="bold" font-size="24" textLength="58" lengthAdjust="spacing">2025</text>
<text x="393.57" y="1355.2">Feb</text>
<text x="560.05" y="1355.2">Mar</text>
<text x="744.36" y="1355.2">Apr</text>
<text x="922.73" y="1355.2">May</text>
<text x="1107.04" y="1355.2">Jun</text>
<text x="1285.41" y="1355.2">Jul</text>
<text x="1469.73" y="1355.2">Aug</text>
<text x="1654.04" y="1355.2">Sep</text>
<text x="1832.41" y="1355.2">Oct</text>
<text x="2016.72" y="1355.2">Nov</text>
<text x="2195.09" y="1355.2">Dec</text>
</g>
<g font-family="'Liberation Sans', sans-serif" font-size="18" fill="#131722">
<text x="26.5" y="67.5" textLength="193" lengthAdjust="spacingAndGlyphs">Shiba Inu · 1D · CRYPTO</text>
<text x="229.9" y="67.5">O</text><text x="243.0" y="67.5" fill="#089981" textLength="105.5">0.000011834</text>
<text x="359.5" y="67.5">H</text><text x="372.3" y="67.5" fill="#089981" textLength="105.5">0.000012360</text>
<text x="490.4" y="67.5">L</text><text x="500.8" y="67.5" fill="#089981" textLength="105.5">0.000011757</text>
<text x="614.2" y="67.5">C</text><text x="626.8" y="67.5" fill="#089981" textLength="105.5">0.000012295</text>
<text x="26.3" y="1017.7" textLength="115" lengthAdjust="spacingAndGlyphs">RSI (14, close)</text>
<text x="152" y="1017.7" fill="#7e57c2">47.49</text>
<text x="207.7" y="1017.7" fill="#f5c518">43.35</text>
</g>
<text x="1679.2" y="632" font-family="'Liberation Sans', sans-serif" font-size="17.5" fill="#131722" textLength="248">0.000005349 (43.48%) 5,349</text>
<g font-family="'Liberation Sans', sans-serif" font-size="18" fill="#131722">
<text x="14" y="28.7" textLength="70.1" lengthAdjust="spacingAndGlyphs">crispus9</text>
<text x="88.8" y="28.7" textLength="61.5" lengthAdjust="spacingAndGlyphs">created</text>
<text x="155" y="28.7" textLength="34" lengthAdjust="spacingAndGlyphs">with</text>
<text x="194.1" y="28.7" textLength="142.7" lengthAdjust="spacingAndGlyphs">TradingView.com,</text>
<text x="342.6" y="28.7" textLength="29.1" lengthAdjust="spacingAndGlyphs">Oct</text>
<text x="376.9" y="28.7" textLength="22.8" lengthAdjust="spacingAndGlyphs">01,</text>
<text x="405" y="28.7" textLength="42.3" lengthAdjust="spacingAndGlyphs">2025</text>
<text x="451.5" y="28.7" textLength="43.3" lengthAdjust="spacingAndGlyphs">17:57</text>
<text x="500.1" y="28.7" textLength="56.6" lengthAdjust="spacingAndGlyphs">UTC+3</text>
</g>
<g fill="#131722">
<path d="M17 1405.8H34V1427H25.5V1413.8H17Z"/>
<circle cx="41.5" cy="1409.4" r="4.2"/>
<path d="M51.4 1405.8H59.8L50.9 1427H42Z"/>
<text x="70.2" y="1427" font-family="'Liberation Sans', sans-serif" font-size="32" font-weight="bold" textLength="173.5" lengthAdjust="spacingAndGlyphs">TradingView</text>
</g>
</svg>
</body></html>
